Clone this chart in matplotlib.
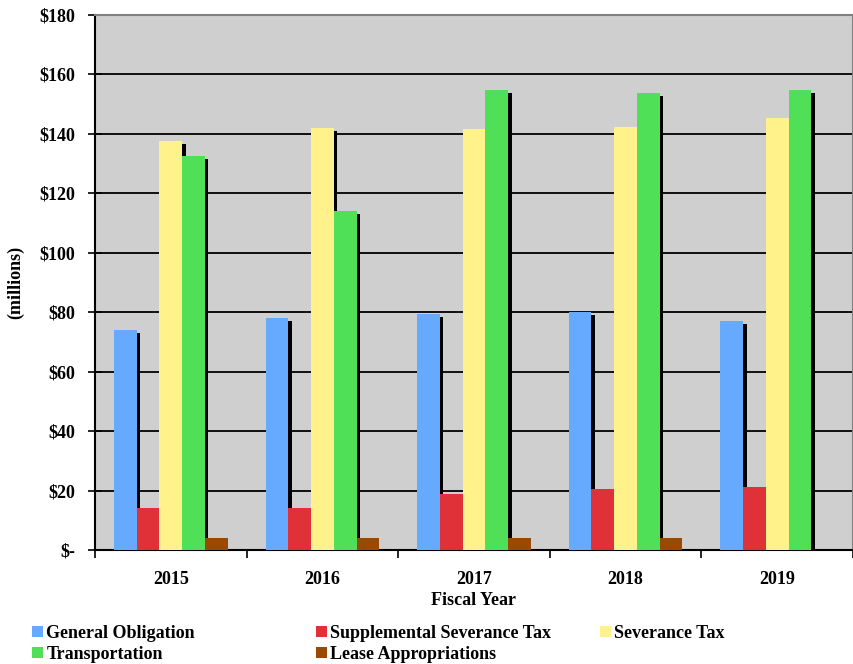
import numpy as np
import matplotlib.pyplot as plt

years = ['2015', '2016', '2017', '2018', '2019']
series_names = ['General Obligation', 'Supplemental Severance Tax', 'Severance Tax',
                'Transportation', 'Lease Appropriations']
general_obligation = [74, 78, 79.5, 80, 77]
supplemental_severance = [14, 14, 19, 20.5, 21.3]
severance_tax = [137.5, 142, 141.5, 142.3, 145.3]
transportation = [132.5, 114, 154.8, 153.8, 154.8]
lease_appropriations = [4, 4, 4, 4, 0]
colors = ['#66aaff', '#e03038', '#fff28a', '#50e058', '#994a00']

values = [general_obligation, supplemental_severance, severance_tax,
          transportation, lease_appropriations]

plt.rcParams['font.family'] = ['Liberation Serif', 'DejaVu Serif']
plt.rcParams['font.weight'] = 'bold'

fig = plt.figure(figsize=(8.54, 6.64), dpi=100)
ax = fig.add_axes([95 / 854, 1 - 550 / 664, 758 / 854, 535 / 664])
ax.set_facecolor('#cfcfcf')

x = np.arange(len(years))
width = 0.15
# shadow offsets in data units
dx = 3.5 / 154
dy = 3 * 180 / 535

handles = []
for i, (vals, col) in enumerate(zip(values, colors)):
    pos = x + (i - 2) * width
    shadow_h = [v - dy if v > 10 else 0 for v in vals]
    ax.bar(pos + dx, shadow_h, width, color='black', zorder=2 + 2 * i)
    b = ax.bar(pos, vals, width, color=col, zorder=3 + 2 * i, label=series_names[i])
    handles.append(b)

ax.set_ylim(0, 180)
ax.set_xlim(-0.5, 4.43)
yt = np.arange(0, 181, 20)
ax.set_yticks(yt)
ax.set_yticklabels(['$-'] + ['$%d' % v for v in yt[1:]], fontsize=13, fontweight='bold')
ax.yaxis.grid(True, color='black', linewidth=1.3, zorder=1)
ax.set_axisbelow(True)
ax.tick_params(axis='y', direction='inout', length=10, width=1.2, pad=9)

ax.set_xticks(x)
ax.set_xticklabels(years, fontsize=13, fontweight='bold')
ax.set_xticks(np.arange(-0.5, 4.6, 1), minor=True)
ax.tick_params(axis='x', which='major', length=0, pad=15)
ax.tick_params(axis='x', which='minor', direction='out', length=6, width=1.2)

ax.set_xlabel('Fiscal Year', fontsize=13, fontweight='bold')
ax.xaxis.set_label_coords(0.5, -0.078)
ax.set_ylabel('(millions)', fontsize=13, fontweight='bold')
ax.yaxis.set_label_coords(-0.093, 0.5)

for side in ['top', 'right']:
    ax.spines[side].set_color('#808080')
    ax.spines[side].set_linewidth(1.5)
ax.spines['left'].set_linewidth(1.5)
ax.spines['bottom'].set_linewidth(1.5)

# legend laid out as three columns, row by row
columns = [[0, 3], [1, 4], [2]]
col_x = [32, 316, 600]
for idx, cx in zip(columns, col_x):
    fig.legend([handles[k] for k in idx], [series_names[k] for k in idx],
               loc='upper left', bbox_to_anchor=(cx / 854, 1 - 625 / 664),
               frameon=False, fontsize=13, handlelength=0.6, handleheight=0.6,
               handletextpad=0.2, labelspacing=0.22, borderaxespad=0,
               borderpad=0)

fig.savefig('out.png', dpi=100)
